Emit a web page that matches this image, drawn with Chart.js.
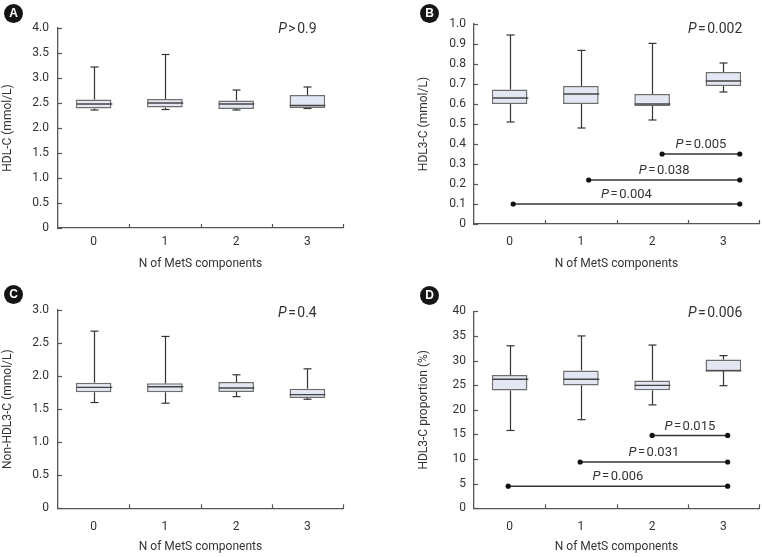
<!DOCTYPE html>
<html>
<head>
<meta charset="utf-8">
<script src="https://cdn.jsdelivr.net/npm/chart.js@4.4.1/dist/chart.umd.min.js"></script>
<style>
  html, body { margin:0; padding:0; background:#fff; }
  body { width:762px; height:558px; position:relative; overflow:hidden; }
  .panel { position:absolute; width:381px; height:279px; }
  .badge { position:absolute; width:19px; height:19px; border-radius:50%; background:#151515; color:#fff;
           font: bold 12px "Liberation Sans", Arial, sans-serif; text-align:center; line-height:19px; }
</style>
</head>
<body>
<div class="panel" style="left:0;top:0"><canvas id="cA" width="381" height="279"></canvas></div>
<div class="panel" style="left:381px;top:0"><canvas id="cB" width="381" height="279"></canvas></div>
<div class="panel" style="left:0;top:279px"><canvas id="cC" width="381" height="279"></canvas></div>
<div class="panel" style="left:381px;top:279px"><canvas id="cD" width="381" height="279"></canvas></div>
<div class="badge" style="left:4px;top:4px">A</div>
<div class="badge" style="left:420px;top:4px">B</div>
<div class="badge" style="left:4px;top:285px">C</div>
<div class="badge" style="left:420px;top:286px">D</div>
<script>
// ---------- data ----------
const groups = ['0', '1', '2', '3'];
const xTitle = 'N of MetS components';

// Panel A: HDL-C (mmol/L)
const hdlcMin = [2.36, 2.37, 2.36, 2.39];
const hdlcQ1  = [2.39, 2.41, 2.38, 2.40];
const hdlcMed = [2.48, 2.50, 2.48, 2.45];
const hdlcQ3  = [2.57, 2.58, 2.55, 2.66];
const hdlcMax = [3.22, 3.47, 2.76, 2.82];
const hdlcTicks = [0, 0.5, 1.0, 1.5, 2.0, 2.5, 3.0, 3.5, 4.0];

// Panel B: HDL3-C (mmol/L)
const hdl3Min = [0.51, 0.48, 0.52, 0.66];
const hdl3Q1  = [0.60, 0.60, 0.59, 0.69];
const hdl3Med = [0.63, 0.65, 0.60, 0.715];
const hdl3Q3  = [0.673, 0.69, 0.65, 0.76];
const hdl3Max = [0.945, 0.868, 0.903, 0.805];
const hdl3Ticks = [0, 0.1, 0.2, 0.3, 0.4, 0.5, 0.6, 0.7, 0.8, 0.9, 1.0];
const hdl3SigFrom = [2.14, 1.11, 0.05];
const hdl3SigTo   = [3.23, 3.23, 3.23];
const hdl3SigY    = [0.35, 0.22, 0.10];
const hdl3SigP    = ['0.005', '0.038', '0.004'];

// Panel C: Non-HDL3-C (mmol/L)
const nonMin = [1.60, 1.59, 1.69, 1.65];
const nonQ1  = [1.755, 1.755, 1.76, 1.67];
const nonMed = [1.83, 1.84, 1.82, 1.72];
const nonQ3  = [1.90, 1.89, 1.91, 1.81];
const nonMax = [2.68, 2.60, 2.02, 2.11];
const nonTicks = [0, 0.5, 1.0, 1.5, 2.0, 2.5, 3.0];

// Panel D: HDL3-C proportion (%)
const propMin = [15.8, 18.0, 21.0, 24.9];
const propQ1  = [23.9, 24.95, 23.95, 27.9];
const propMed = [26.2, 26.2, 24.95, 27.9];
const propQ3  = [27.05, 28.0, 25.97, 30.2];
const propMax = [33.0, 35.0, 33.15, 31.0];
const propTicks = [0, 5, 10, 15, 20, 25, 30, 35, 40];
const propSigFrom = [2.0, 0.99, -0.02];
const propSigTo   = [3.06, 3.06, 3.06];
const propSigY    = [14.8, 9.4, 4.5];
const propSigP    = ['0.015', '0.031', '0.006'];

// ---------- styling ----------
const FONT = 'Roboto, "Liberation Sans", sans-serif';
const AXIS = '#555';
const TEXT = '#333';

function drawP(ctx, cx, cy, op, value, size) {
  const gap = 1.5;
  ctx.font = 'italic ' + size + 'px ' + FONT;
  const wP = ctx.measureText('P').width;
  ctx.font = size + 'px ' + FONT;
  const wO = ctx.measureText(op).width;
  const wV = ctx.measureText(value).width;
  const total = wP + gap + wO + gap + wV;
  let x = cx - total / 2;
  ctx.fillStyle = TEXT;
  ctx.textBaseline = 'middle';
  ctx.textAlign = 'left';
  ctx.font = 'italic ' + size + 'px ' + FONT;
  ctx.fillText('P', x, cy);
  x += wP + gap;
  ctx.font = size + 'px ' + FONT;
  ctx.fillText(op, x, cy);
  x += wO + gap;
  ctx.fillText(value, x, cy);
}

function makePanel(id, d, L) {
  const plugin = {
    id: 'extras' + id,
    afterDatasetsDraw(chart) {
      const ctx = chart.ctx, xs = chart.scales.x, ys = chart.scales.y;
      const bars = chart.getDatasetMeta(0).data;
      const ca = chart.chartArea;
      ctx.save();
      const seg = (x1, y1, x2, y2) => { ctx.beginPath(); ctx.moveTo(x1, y1); ctx.lineTo(x2, y2); ctx.stroke(); };
      for (let i = 0; i < groups.length; i++) {
        const cx = Math.round(xs.getPixelForValue(i)) + 0.5;
        const half = bars[i].width / 2;
        const cap = 4;
        ctx.strokeStyle = '#333';
        ctx.lineWidth = 1.2;
        const yq3 = ys.getPixelForValue(d.q3[i]), yq1 = ys.getPixelForValue(d.q1[i]);
        const yMax = ys.getPixelForValue(d.max[i]), yMin = ys.getPixelForValue(d.min[i]);
        seg(cx, yq3, cx, yMax); seg(cx - cap, yMax, cx + cap, yMax);
        seg(cx, yq1, cx, yMin); seg(cx - cap, yMin, cx + cap, yMin);
        ctx.strokeStyle = '#444';
        ctx.lineWidth = 1.4;
        const ym = ys.getPixelForValue(d.med[i]);
        seg(cx - half, ym, cx + half, ym);
      }
      // significance brackets
      if (d.sigY) {
        for (let k = 0; k < d.sigY.length; k++) {
          const x1 = xs.getPixelForValue(d.sigFrom[k]);
          const x2 = xs.getPixelForValue(d.sigTo[k]);
          const py = ys.getPixelForValue(d.sigY[k]);
          ctx.strokeStyle = '#333';
          ctx.lineWidth = 1.5;
          seg(x1, py, x2, py);
          ctx.fillStyle = '#111';
          [x1, x2].forEach(px => { ctx.beginPath(); ctx.arc(px, py, 2.6, 0, Math.PI * 2); ctx.fill(); });
          drawP(ctx, (x1 + x2) / 2, py - 9, '=', d.sigP[k], 13);
        }
      }
      // overall P value
      drawP(ctx, ca.left + L.pX * (ca.right - ca.left), ca.top + L.pDy, d.pOp, d.pVal, 14);
      // inward tick marks
      ctx.strokeStyle = AXIS;
      ctx.lineWidth = 1.2;
      ys.ticks.forEach(t => {
        const py = Math.round(ys.getPixelForValue(t.value)) + 0.5;
        seg(ca.left, py, ca.left + 4, py);
      });
      for (let i = 1; i <= groups.length; i++) {
        const px = Math.round(xs.getPixelForValue(i - 0.5)) + 0.5;
        seg(px, ca.bottom, px, ca.bottom - 4);
      }
      ctx.restore();
    }
  };

  return new Chart(document.getElementById(id), {
    type: 'bar',
    data: {
      labels: groups,
      datasets: [{
        data: groups.map((g, i) => [d.q1[i], d.q3[i]]),
        backgroundColor: '#e2e7f3',
        borderColor: '#6e6e6e',
        borderWidth: 1.5,
        borderSkipped: false,
        categoryPercentage: 1.0,
        barPercentage: 0.5
      }]
    },
    options: {
      responsive: false,
      animation: false,
      layout: { padding: { left: L.padL, right: L.padR, top: L.padT, bottom: L.padB } },
      plugins: { legend: { display: false }, tooltip: { enabled: false } },
      scales: {
        x: {
          type: 'category',
          offset: true,
          grid: { display: false, drawTicks: false, offset: true },
          border: { display: true, color: AXIS, width: 1.3 },
          ticks: { color: TEXT, font: { family: FONT, size: 12 }, padding: L.xPad, maxRotation: 0 },
          title: { display: true, text: xTitle, color: TEXT, font: { family: FONT, size: 12 }, padding: 0 },
          afterFit(s) { s.height = L.xH; }
        },
        y: {
          type: 'linear',
          min: d.ticks[0],
          max: d.ticks[d.ticks.length - 1],
          grid: { display: false, drawTicks: false },
          border: { display: true, color: AXIS, width: 1.3 },
          afterBuildTicks(s) { s.ticks = d.ticks.map(v => ({ value: v })); },
          ticks: {
            color: TEXT, font: { family: FONT, size: 12 }, padding: L.yPad,
            callback: v => (v === 0 ? '0' : v.toFixed(d.dec))
          },
          title: { display: true, text: d.yTitle, color: TEXT, font: { family: FONT, size: 12 }, padding: 0 },
          afterFit(s) { s.width = L.yW; }
        }
      }
    },
    plugins: [plugin]
  });
}

makePanel('cA',
  { min: hdlcMin, q1: hdlcQ1, med: hdlcMed, q3: hdlcQ3, max: hdlcMax, ticks: hdlcTicks, dec: 1,
    yTitle: 'HDL-C (mmol/L)', pOp: '>', pVal: '0.9' },
  { padL: 1, padR: 38, padT: 28, padB: 8, yW: 57, xH: 43, xPad: 7, yPad: 9, pX: 0.84, pDy: 1 });

makePanel('cB',
  { min: hdl3Min, q1: hdl3Q1, med: hdl3Med, q3: hdl3Q3, max: hdl3Max, ticks: hdl3Ticks, dec: 1,
    yTitle: 'HDL3-C (mmol/L)', pOp: '=', pVal: '0.002',
    sigFrom: hdl3SigFrom, sigTo: hdl3SigTo, sigY: hdl3SigY, sigP: hdl3SigP },
  { padL: 36, padR: 3, padT: 24, padB: 8, yW: 57, xH: 47, xPad: 11, yPad: 8, pX: 0.846, pDy: 5 });

makePanel('cC',
  { min: nonMin, q1: nonQ1, med: nonMed, q3: nonQ3, max: nonMax, ticks: nonTicks, dec: 1,
    yTitle: 'Non-HDL3-C (mmol/L)', pOp: '=', pVal: '0.4' },
  { padL: 1, padR: 38, padT: 31, padB: 3.5, yW: 57, xH: 46.2, xPad: 11, yPad: 9, pX: 0.84, pDy: 3 });

makePanel('cD',
  { min: propMin, q1: propQ1, med: propMed, q3: propQ3, max: propMax, ticks: propTicks, dec: 0,
    yTitle: 'HDL3-C proportion (%)', pOp: '=', pVal: '0.006',
    sigFrom: propSigFrom, sigTo: propSigTo, sigY: propSigY, sigP: propSigP },
  { padL: 36, padR: 3, padT: 32.3, padB: 3.5, yW: 57, xH: 46.2, xPad: 11, yPad: 8, pX: 0.846, pDy: 2 });
</script>
</body>
</html>
